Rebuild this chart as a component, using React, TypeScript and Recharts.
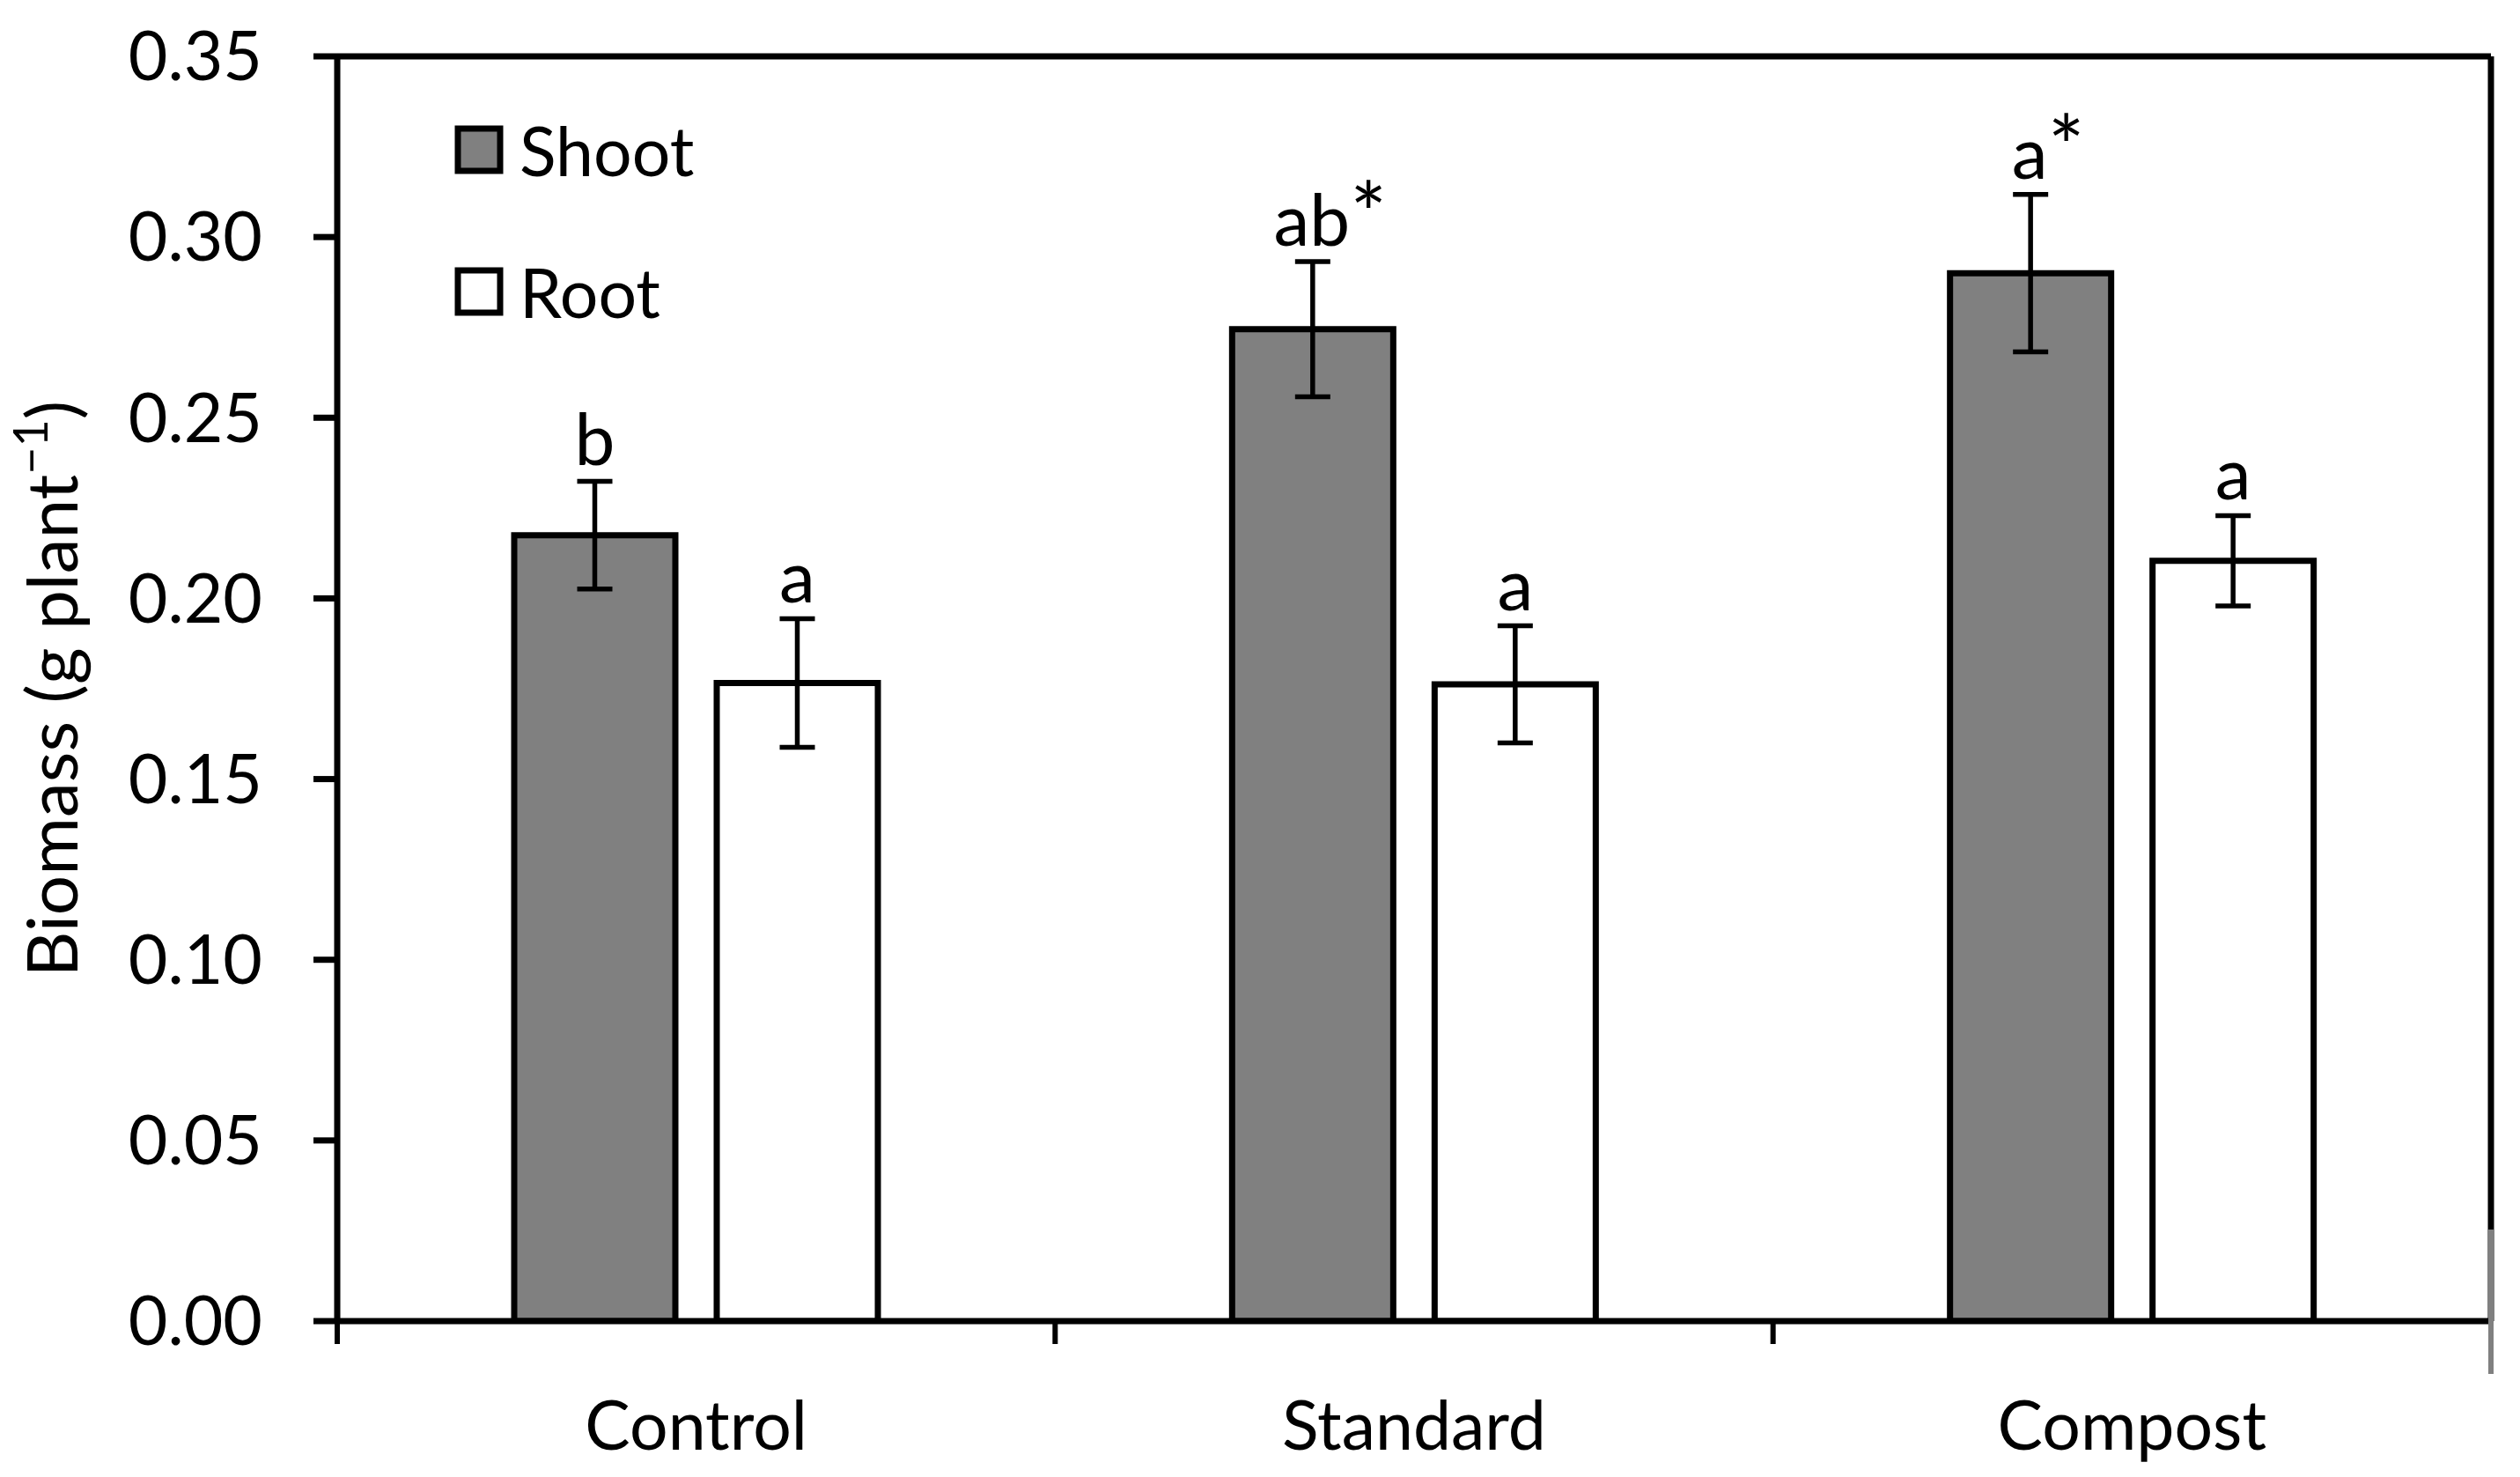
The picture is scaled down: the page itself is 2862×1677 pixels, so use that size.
import React from 'react';
import { BarChart, Bar, XAxis, YAxis, ErrorBar, LabelList, Legend } from 'recharts';

const categories = ['Control', 'Standard', 'Compost'];
const shootMeans = [0.2175, 0.2745, 0.29];
const shootErrors = [0.0149, 0.0187, 0.0218];
const shootLetters = ['b', 'ab*', 'a*'];
const rootMeans = [0.1766, 0.1762, 0.2104];
const rootErrors = [0.0178, 0.0162, 0.0125];
const rootLetters = ['a', 'a', 'a'];
const yTicks = [0, 0.05, 0.1, 0.15, 0.2, 0.25, 0.3, 0.35];

const data = categories.map((name, i) => ({
  name,
  shoot: shootMeans[i],
  shootErr: shootErrors[i],
  shootSig: shootLetters[i],
  root: rootMeans[i],
  rootErr: rootErrors[i],
  rootSig: rootLetters[i],
}));

const W = 2862;
const H = 1677;
const M = { top: 64, right: 33, bottom: 177, left: 0 };
const YAXIS_W = 383;
const PLOT_W = W - M.left - M.right - YAXIS_W;
const BAND = PLOT_W / categories.length;
const FONT = 'Lato, "Open Sans", sans-serif';
const FS = 77;
const SIG_FS = 82;
const LINE = 7;

const XTick = (props: any) => {
  const { x, y, payload, index } = props;
  const half = BAND / 2;
  const last = index === categories.length - 1;
  return (
    <g>
      <line x1={x - half} x2={x - half} y1={y} y2={y + 26} stroke="#000" strokeWidth={LINE - 1} />
      {last && (
        <line x1={x + half} x2={x + half} y1={y - 104} y2={y + 60} stroke="#808080" strokeWidth={LINE - 1} />
      )}
      <text x={x} y={y + 146} textAnchor="middle" fontSize={FS} fontFamily={FONT} fill="#000">
        {payload.value}
      </text>
    </g>
  );
};

const makeSigLabel = (means: number[], errs: number[]) => (props: any) => {
  const { x, y, width, height, value, index } = props;
  const v = means[index];
  const pxPerUnit = Math.abs(height) / v;
  const top = y - errs[index] * pxPerUnit;
  const txt = String(value);
  const star = txt.endsWith('*');
  const letters = star ? txt.slice(0, -1) : txt;
  return (
    <text
      x={x + width / 2}
      y={top - 18}
      dx={star ? 20 : 0}
      textAnchor="middle"
      fontSize={SIG_FS}
      fontFamily={FONT}
      fill="#000"
    >
      {letters}
      {star && <tspan fontSize={SIG_FS * 1.2}>*</tspan>}
    </text>
  );
};

const YLabel = (props: any) => {
  const vb = props.viewBox || { y: M.top, height: H - M.top - M.bottom };
  const cy = vb.y + vb.height / 2;
  const bx = 88;
  return (
    <text
      x={bx}
      y={cy}
      transform={`rotate(-90, ${bx}, ${cy})`}
      textAnchor="middle"
      fontSize={80}
      fontFamily={FONT}
      fill="#000"
    >
      Biomass (g plant
      <tspan fontSize={54} dy={-34}>−1</tspan>
      <tspan dy={34}>)</tspan>
    </text>
  );
};

const legendItems = [
  { label: 'Shoot', fill: '#808080' },
  { label: 'Root', fill: '#ffffff' },
];

const LegendContent = () => (
  <svg width={420} height={230} style={{ display: 'block', overflow: 'visible' }}>
    {legendItems.map((it, i) => (
      <g key={it.label} transform={`translate(0, ${i * 161})`}>
        <rect x={3} y={3} width={48} height={48} fill={it.fill} stroke="#000" strokeWidth={LINE} />
        <text x={73} y={27} dominantBaseline="central" fontSize={FS} fontFamily={FONT} fill="#000">
          {it.label}
        </text>
      </g>
    ))}
  </svg>
);

export default function App() {
  return (
    <div style={{ position: 'absolute', left: 0, top: 0, width: W, height: H, background: '#fff' }}>
      <BarChart width={W} height={H} data={data} margin={M} barSize={183} barGap={47}>
        <XAxis
          dataKey="name"
          xAxisId="main"
          axisLine={{ stroke: '#000', strokeWidth: LINE }}
          tickLine={false}
          tickSize={0}
          tickMargin={0}
          height={0.0001}
          tick={<XTick />}
          interval={0}
        />
        <XAxis
          xAxisId="top"
          dataKey="name"
          orientation="top"
          axisLine={{ stroke: '#000', strokeWidth: LINE }}
          tick={false}
          tickLine={false}
          height={0.0001}
        />
        <YAxis
          yAxisId="main"
          domain={[0, 0.35]}
          ticks={yTicks}
          interval={0}
          width={YAXIS_W}
          axisLine={{ stroke: '#000', strokeWidth: LINE }}
          tickLine={{ stroke: '#000', strokeWidth: LINE }}
          tickSize={27}
          tickMargin={58}
          tickFormatter={(v: number) => v.toFixed(2)}
          tick={{ fontSize: FS, fontFamily: FONT, fill: '#000' }}
          label={<YLabel />}
          allowDataOverflow
        />
        <YAxis
          yAxisId="right"
          orientation="right"
          domain={[0, 0.35]}
          width={0.0001}
          axisLine={{ stroke: '#000', strokeWidth: LINE }}
          tick={false}
          tickLine={false}
        />
        <Legend
          layout="vertical"
          align="center"
          verticalAlign="middle"
          content={<LegendContent />}
          wrapperStyle={{ position: 'absolute', left: 517, top: 143, width: 420, height: 230 }}
        />
        <Bar
          dataKey="shoot"
          xAxisId="main"
          yAxisId="main"
          fill="#808080"
          stroke="#000"
          strokeWidth={LINE}
          isAnimationActive={false}
        >
          <ErrorBar dataKey="shootErr" width={20} stroke="#000" strokeWidth={5.5} />
          <LabelList dataKey="shootSig" content={makeSigLabel(shootMeans, shootErrors)} />
        </Bar>
        <Bar
          dataKey="root"
          xAxisId="main"
          yAxisId="main"
          fill="#ffffff"
          stroke="#000"
          strokeWidth={LINE}
          isAnimationActive={false}
        >
          <ErrorBar dataKey="rootErr" width={20} stroke="#000" strokeWidth={5.5} />
          <LabelList dataKey="rootSig" content={makeSigLabel(rootMeans, rootErrors)} />
        </Bar>
      </BarChart>
    </div>
  );
}
